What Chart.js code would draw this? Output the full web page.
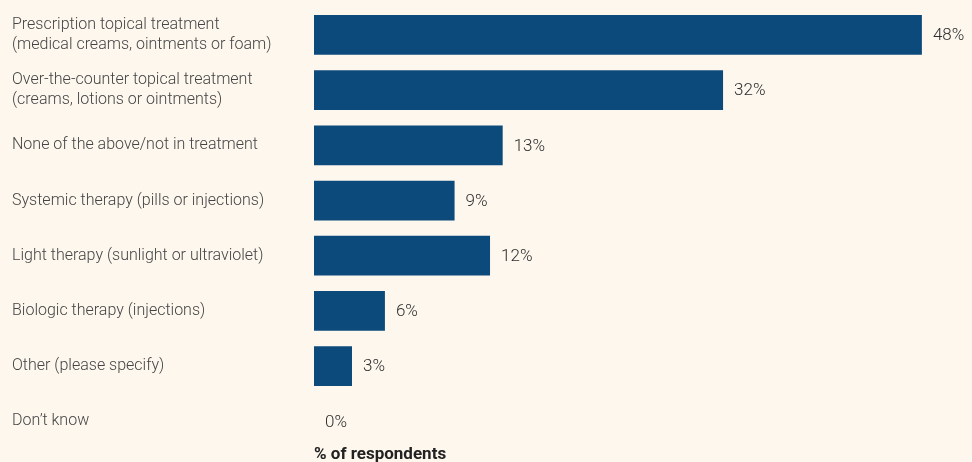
<!DOCTYPE html>
<html>
<head>
<meta charset="utf-8">
<script src="https://cdn.jsdelivr.net/npm/chart.js@4/dist/chart.umd.min.js"></script>
<style>
  html, body { margin: 0; padding: 0; background: #fdf7ee; }
  #wrap { width: 972px; height: 462px; }
  canvas { display: block; }
</style>
</head>
<body>
<div id="wrap"><canvas id="c" width="972" height="462"></canvas></div>
<script>
const categories = [
  ["Prescription topical treatment", "(medical creams, ointments or foam)"],
  ["Over-the-counter topical treatment", "(creams, lotions or ointments)"],
  "None of the above/not in treatment",
  "Systemic therapy (pills or injections)",
  "Light therapy (sunlight or ultraviolet)",
  "Biologic therapy (injections)",
  "Other (please specify)",
  "Don\u2019t know"
];
// bar lengths as drawn in the picture
const values = [48, 32.3, 14.9, 11.1, 13.9, 5.6, 3.0, 0];
// printed value labels
const valueLabels = ["48%", "32%", "13%", "9%", "12%", "6%", "3%", "0%"];
const axisTitle = "% of respondents";

const FONT = "Roboto, 'Noto Sans', sans-serif";

const valueLabelPlugin = {
  id: 'valueLabels',
  afterDatasetsDraw(chart) {
    const ctx = chart.ctx;
    const meta = chart.getDatasetMeta(0);
    ctx.save();
    ctx.font = "300 17px " + FONT;
    ctx.fillStyle = "#2e2e2e";
    ctx.textAlign = "left";
    ctx.textBaseline = "middle";
    meta.data.forEach((el, i) => {
      ctx.fillText(valueLabels[i], el.x + 11, el.y + 1);
    });
    ctx.restore();
  }
};

new Chart(document.getElementById('c'), {
  type: 'bar',
  data: {
    labels: categories,
    datasets: [{
      data: values,
      backgroundColor: '#0c4a7b',
      borderWidth: 0,
      barPercentage: 0.72,
      categoryPercentage: 1.0
    }]
  },
  options: {
    indexAxis: 'y',
    responsive: false,
    animation: false,
    layout: { padding: { left: 12, right: 2, top: 7.25, bottom: -4 } },
    plugins: { legend: { display: false }, tooltip: { enabled: false } },
    scales: {
      x: {
        min: 0,
        max: 51.8,
        grid: { display: false, drawTicks: false },
        border: { display: false },
        ticks: { display: false },
        title: {
          display: true,
          text: axisTitle,
          align: 'start',
          color: '#222',
          font: { family: FONT, size: 17, weight: 'bold', lineHeight: 1 },
          padding: { top: -3, bottom: 3 }
        }
      },
      y: {
        grid: { display: false, drawTicks: false },
        border: { display: false },
        afterFit(scale) {
          scale.width = 302;
          scale.paddingTop = 0;
          scale.paddingBottom = 0;
        },
        ticks: {
          crossAlign: 'far',
          color: '#444',
          padding: 0,
          font: { family: FONT, size: 16, weight: 300, lineHeight: 1.22 }
        }
      }
    }
  },
  plugins: [valueLabelPlugin]
});
</script>
</body>
</html>
